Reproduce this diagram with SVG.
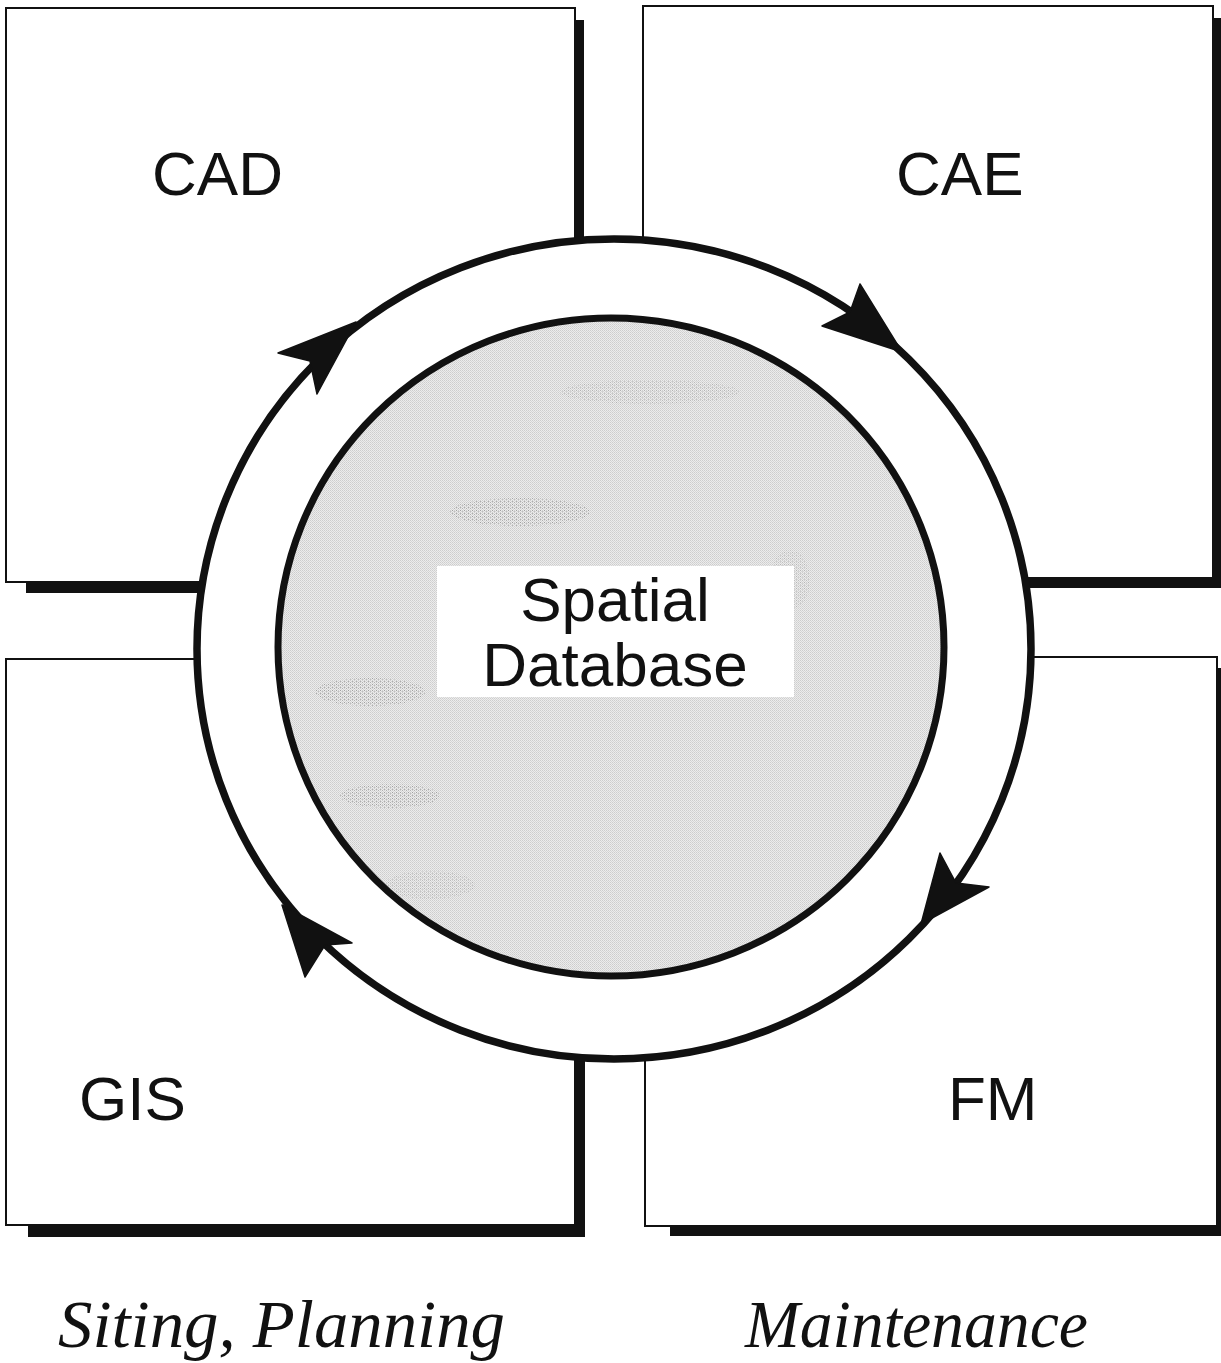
<svg xmlns="http://www.w3.org/2000/svg" width="1221" height="1363" viewBox="0 0 1221 1363">
  <style>
    .frame { fill: #ffffff; stroke: #111111; stroke-width: 2; }
    .shadow { fill: #111111; }
    .label { font-family: "Liberation Sans", Arial, Helvetica, sans-serif; font-size: 62px; fill: #111111; }
    .caption { font-family: "Liberation Serif", "Times New Roman", serif; font-style: italic; font-size: 68px; fill: #111111; }
    .ring { fill: #ffffff; stroke: #111111; stroke-width: 7.5; }
    .core { stroke: #111111; stroke-width: 7; }
    .head { fill: #111111; stroke: #111111; stroke-width: 1.5; stroke-linejoin: round; }
  </style>
  <defs>
    <!-- halftone grey used for the database disc -->
    <pattern id="halftone" width="2" height="2" patternUnits="userSpaceOnUse">
      <rect width="2" height="2" fill="#ececec"/>
      <rect x="0" y="0" width="1" height="1" fill="#cdcdcd"/>
      <rect x="1" y="1" width="1" height="1" fill="#d6d6d6"/>
    </pattern>
    <pattern id="speckle" width="4" height="3" patternUnits="userSpaceOnUse">
      <rect x="0" y="0" width="1" height="1" fill="#7a7a7a"/>
      <rect x="2" y="1" width="1" height="1" fill="#9a9a9a"/>
    </pattern>
    <clipPath id="discClip">
      <ellipse cx="611" cy="647" rx="330" ry="326"/>
    </clipPath>
  </defs>

  <!-- application boxes with drop shadows -->
  <g id="box-cad">
    <rect class="shadow" x="26" y="20" width="558" height="573"/>
    <rect class="frame" x="6" y="8" width="569" height="574"/>
    <text class="label" x="152" y="195">CAD</text>
  </g>
  <g id="box-cae">
    <rect class="shadow" x="662" y="18" width="559" height="570"/>
    <rect class="frame" x="643" y="6" width="570" height="572"/>
    <text class="label" x="896" y="195">CAE</text>
  </g>
  <g id="box-gis">
    <rect class="shadow" x="28" y="670" width="557" height="567"/>
    <rect class="frame" x="6" y="659" width="569" height="566"/>
    <text class="label" x="79" y="1120">GIS</text>
  </g>
  <g id="box-fm">
    <rect class="shadow" x="670" y="668" width="551" height="568"/>
    <rect class="frame" x="645" y="657" width="572" height="569"/>
    <text class="label" x="948" y="1120">FM</text>
  </g>

  <!-- circulation ring with its four arrowheads -->
  <g id="connectors">
    <ellipse class="ring" cx="614" cy="649" rx="417" ry="410"/>
    <polygon class="head" points="356,322 278,353 310,361 317,394"/>
    <polygon class="head" points="902,352 860,284 850,312 822,326"/>
    <polygon class="head" points="921,924 940,853 956,883 989,887"/>
    <polygon class="head" points="282,905 305,977 325,945 352,943"/>
  </g>

  <!-- central spatial database disc -->
  <g id="database">
    <ellipse class="core" cx="611" cy="647" rx="333" ry="329" fill="url(#halftone)"/>
    <g clip-path="url(#discClip)" opacity="0.55">
      <ellipse cx="520" cy="512" rx="70" ry="14" fill="url(#speckle)"/>
      <ellipse cx="650" cy="392" rx="90" ry="12" fill="url(#speckle)" opacity="0.6"/>
      <ellipse cx="370" cy="692" rx="55" ry="14" fill="url(#speckle)"/>
      <ellipse cx="390" cy="796" rx="50" ry="12" fill="url(#speckle)"/>
      <ellipse cx="430" cy="885" rx="45" ry="14" fill="url(#speckle)" opacity="0.6"/>
      <ellipse cx="790" cy="580" rx="20" ry="30" fill="url(#speckle)" opacity="0.5"/>
    </g>
    <rect x="437" y="566" width="357" height="131" fill="#ffffff"/>
    <text class="label" x="615" y="621" text-anchor="middle">Spatial</text>
    <text class="label" x="615" y="686" text-anchor="middle">Database</text>
  </g>

  <!-- life-cycle captions -->
  <g id="captions">
    <text class="caption" x="58" y="1347" textLength="447" lengthAdjust="spacingAndGlyphs">Siting, Planning</text>
    <text class="caption" x="745" y="1347" textLength="343" lengthAdjust="spacingAndGlyphs">Maintenance</text>
  </g>
</svg>
